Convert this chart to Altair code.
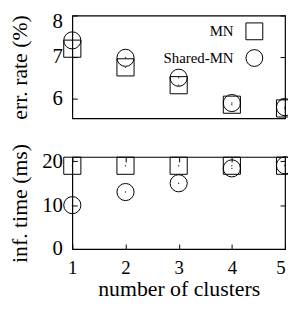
import altair as alt
import pandas as pd

clusters = [1, 2, 3, 4, 5]
series_names = ["MN", "Shared-MN"]
err_mn = [7.2, 6.75, 6.32, 5.85, 5.76]
err_shared = [7.4, 6.98, 6.5, 5.89, 5.79]
time_mn = [19.0, 19.0, 19.0, 19.0, 19.0]
time_shared = [10.0, 13.0, 15.0, 18.4, 19.1]
x_ticks = [1, 2, 3, 4, 5]
err_ticks = [6, 7, 8]
time_ticks = [0, 10, 20]

FONT = "Liberation Serif"
W, H1, H2 = 215, 104, 93


def long_table(a, b, name):
    rows = []
    for s, vals in zip(series_names, [a, b]):
        for c, v in zip(clusters, vals):
            rows.append({"clusters": c, "series": s, name: v})
    return pd.DataFrame(rows)


def panel(df, field, domain, ticks, title, height, show_x, legend, flush):
    xs = alt.Scale(domain=[1, 5], nice=False, zero=False)
    ys = alt.Scale(domain=domain, nice=False, zero=False)
    base = alt.Chart(df)

    def tick_axis(orient, offset, values):
        return alt.Axis(orient=orient, offset=offset, values=values, labels=False,
                        title=None, domain=False, grid=False, ticks=True,
                        tickSize=5, tickColor="black", tickWidth=1)

    ykw = {}
    if flush:
        ykw = dict(labelFlush=2, labelFlushOffset=5)
    main_y = alt.Axis(orient="left", values=ticks, ticks=False, tickSize=0,
                      domain=False, grid=False, labelFont=FONT, labelFontSize=21,
                      labelColor="black", labelPadding=10, title=title,
                      titleFont=FONT, titleFontSize=22, titleFontWeight="normal",
                      titleColor="black", titleX=-41, titleY=height / 2,
                      format="d", **ykw)
    if show_x:
        main_x = alt.Axis(orient="bottom", values=x_ticks, ticks=False, tickSize=0,
                          domain=False, grid=False, labelFont=FONT, labelFontSize=19,
                          labelColor="black", labelPadding=10, labelFlush=False,
                          labelAlign={"condition": {"test": "datum.value == 5",
                                                    "value": "right"},
                                      "value": "center"},
                          title="number of clusters", titleFont=FONT,
                          titleFontSize=22, titleFontWeight="normal",
                          titleColor="black", titleY=30, format="d")
        x_in1 = tick_axis("top", -height, x_ticks)
        x_in2 = tick_axis("bottom", -height, x_ticks)
    else:
        main_x = None
        x_in1 = None
        x_in2 = None

    shape_legend = None
    if legend:
        shape_legend = alt.Legend(orient="none", legendX=91, legendY=7, title=None,
                                  labelFont=FONT, labelFontSize=15, labelColor="black",
                                  labelAlign="right", labelOffset={"expr": "-30"},
                                  symbolOffset=84,
                                  symbolSize=289, symbolStrokeWidth=1,
                                  symbolStrokeColor="black", symbolFillColor="white",
                                  rowPadding=5, padding=0)

    markers = base.mark_point(filled=False, color="black", strokeWidth=1, size=300,
                              opacity=1).encode(
        x=alt.X("clusters:Q", scale=xs, axis=main_x),
        y=alt.Y(f"{field}:Q", scale=ys, axis=main_y),
        shape=alt.Shape("series:N", scale=alt.Scale(domain=series_names,
                                                    range=["square", "circle"]),
                        legend=shape_legend),
    )
    dots = base.mark_circle(color="black", size=2, opacity=0.8).encode(
        x=alt.X("clusters:Q", scale=xs, axis=x_in1),
        y=alt.Y(f"{field}:Q", scale=ys, axis=tick_axis("right", -W, ticks)),
    )
    dots2 = base.mark_circle(color="black", size=2, opacity=0).encode(
        x=alt.X("clusters:Q", scale=xs, axis=x_in2),
        y=alt.Y(f"{field}:Q", scale=ys, axis=tick_axis("left", -W, ticks)),
    )
    return alt.layer(markers, dots, dots2).resolve_axis(
        x="independent", y="independent").properties(width=W, height=height)


err_df = long_table(err_mn, err_shared, "err")
time_df = long_table(time_mn, time_shared, "time")

top = panel(err_df, "err", [5.52, 8.0], err_ticks, "err. rate (%)", H1, False, True, True)
bottom = panel(time_df, "time", [0, 21], time_ticks, "inf. time (ms)", H2, True, False, False)

chart = alt.vconcat(top, bottom, spacing=39, bounds="flush").resolve_scale(
    shape="independent").properties(
    padding={"left": 0, "top": 0, "right": -9, "bottom": 0},
    background="white",
).configure_view(stroke="black", strokeWidth=1.2)

chart.save("out.html", embed_options={"renderer": "svg", "actions": False})
